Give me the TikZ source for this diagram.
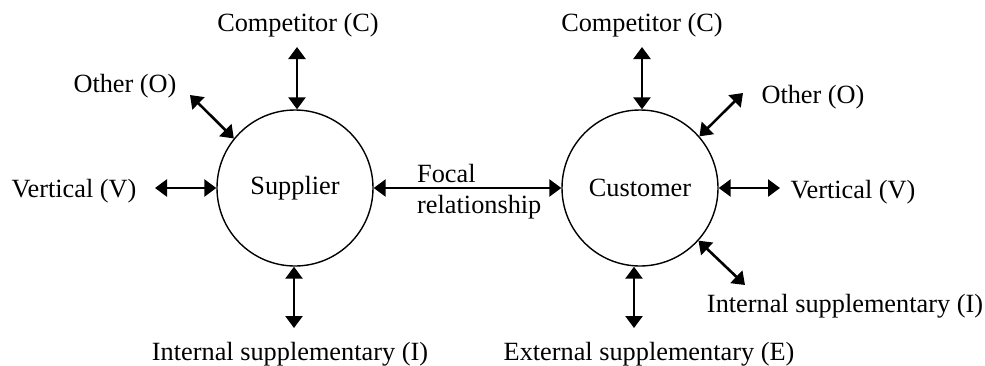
\documentclass[tikz,border=0pt]{standalone}
\usepackage{fontspec}
\setmainfont{Liberation Serif}
\usetikzlibrary{arrows.meta}
\begin{document}
\begin{tikzpicture}[x=1pt,y=-1pt,
  every node/.style={font=\fontsize{26.3}{31}\selectfont},
  party/.style={circle,draw,line width=1.4pt,minimum size=156pt,inner sep=0pt},
  link/.style={line width=2.6pt,{Triangle[width=17pt,length=12pt]}-{Triangle[width=17pt,length=12pt]}},
  lbl/.style={anchor=base,inner sep=0pt}]
\useasboundingbox (0,0) rectangle (985,365);

% the two parties of the focal relationship
\node[party] (sup) at (295,188) {Supplier};
\node[party] (cus) at (640,188) {Customer};

% labels of the connected relationships
\node[lbl] (compS) at (298,31) {Competitor (C)};
\node[lbl] (compC) at (642,31) {Competitor (C)};
\node[lbl] (othS) at (125,92) {Other (O)};
\node[lbl] (vertS) at (74,197) {Vertical (V)};
\node[lbl] (othC) at (813,103) {Other (O)};
\node[lbl] (vertC) at (853,198) {Vertical (V)};
\node[lbl] (intS) at (290,360) {Internal supplementary (I)};
\node[lbl] (extC) at (649,360) {External supplementary (E)};
\node[lbl] (intC) at (845,312) {Internal supplementary (I)};
\node[lbl,anchor=base west] (focA) at (417,182) {Focal};
\node[lbl,anchor=base west] (focB) at (417,213) {relationship};

% free ends of the arrows
\coordinate (eCompS) at (297,47);
\coordinate (eCompC) at (642,47);
\coordinate (eOthS) at (190,95);
\coordinate (eVertS) at (155,188);
\coordinate (eOthC) at (743,93);
\coordinate (eVertC) at (780,188);
\coordinate (eIntS) at (294,328);
\coordinate (eExtC) at (634,328);
\coordinate (eIntC) at (745,285);

% arrows
\draw[link] (eCompS) -- (eCompS |- sup.north);
\draw[link] (eCompC) -- (eCompC |- cus.north);
\draw[link] (eOthS) -- (sup.141);
\draw[link] (eVertS) -- (sup.west);
\draw[link] (sup.east) -- (cus.west);
\draw[link] (cus.east) -- (eVertC);
\draw[link] (eOthC) -- (cus.41.5);
\draw[link] (eIntC) -- (cus.-42);
\draw[link] (eIntS) -- (eIntS |- sup.south);
\draw[link] (eExtC) -- (eExtC |- cus.south);
\end{tikzpicture}
\end{document}
